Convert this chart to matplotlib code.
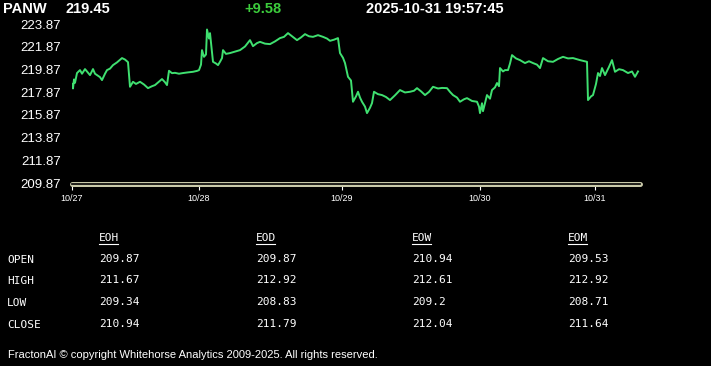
import matplotlib
matplotlib.use('Agg')
import matplotlib.pyplot as plt
from matplotlib.lines import Line2D

symbol = 'PANW'
last_price = 219.45
change = '+9.58'
stamp = '2025-10-31 19:57:45'
base = 209.87

# bar index, price
idx = [0, 1, 2, 3, 5, 8, 10, 13, 16, 18, 21, 23, 25, 28, 30, 33, 35, 38, 41, 45,
       50, 53, 56, 58, 61, 64, 68, 72, 76, 80, 83, 87, 90, 93, 95, 97, 100, 103, 107,
       111, 116, 121, 125, 127, 129, 130, 132, 134, 135, 137, 138, 141, 144, 146, 148,
       150, 151, 154, 158, 163, 168, 173, 178, 181, 185, 188, 193, 198, 203, 208, 212,
       216, 220, 225, 229, 233, 237, 241, 246, 251, 255, 258, 262, 266, 268, 271, 273,
       276, 279, 281, 284, 286, 288, 290, 293, 295, 298, 300, 302, 306, 310, 314, 318,
       323, 328, 333, 338, 342, 345, 349, 353, 357, 361, 366, 370, 375, 378, 381, 385,
       388, 392, 395, 400, 405, 407, 408, 410, 411, 413, 415, 418, 420, 423, 425, 427,
       428, 431, 433, 436, 438, 440, 444, 448, 453, 457, 461, 465, 468, 471, 476, 481,
       486, 491, 496, 501, 508, 515, 516, 519, 521, 524, 526, 528, 530, 533, 537, 540,
       543, 547, 551, 556, 560, 563, 566]
price = [218.6, 218.2, 219.0, 218.7, 219.56, 219.82, 219.5, 219.91, 219.6, 219.38,
         219.91, 219.5, 219.38, 219.2, 218.94, 219.5, 219.82, 219.95, 220.26, 220.5,
         220.88, 220.75, 220.52, 218.35, 218.79, 218.6, 218.79, 218.55, 218.23, 218.4,
         218.50, 218.8, 219.03, 218.75, 218.50, 219.76, 219.55, 219.58, 219.5, 219.56,
         219.62, 219.67, 219.75, 219.82, 220.3, 221.58, 220.99, 221.2, 223.40, 222.6,
         223.08, 220.55, 220.4, 220.26, 220.55, 220.88, 221.58, 221.25, 221.32, 221.45,
         221.58, 221.9, 222.46, 221.93, 222.2, 222.31, 222.15, 222.11, 222.35, 222.64,
         222.75, 223.08, 222.8, 222.46, 222.7, 222.99, 222.8, 222.75, 222.9, 222.75,
         222.6, 222.40, 222.5, 222.64, 221.32, 220.9, 220.44, 219.23, 218.9, 217.03,
         217.5, 217.91, 217.4, 217.03, 216.6, 216.03, 216.5, 216.91, 217.91, 217.7,
         217.62, 217.45, 217.18, 217.6, 218.06, 217.85, 217.91, 218.0, 218.23, 217.95,
         217.62, 217.9, 218.35, 218.2, 218.25, 218.23, 217.9, 217.62, 217.4, 217.03,
         217.25, 217.35, 217.1, 217.03, 216.6, 216.03, 216.9, 216.2, 216.91, 217.62,
         217.3, 218.06, 218.3, 218.68, 218.4, 220.00, 219.7, 219.82, 219.82, 220.4,
         221.14, 220.85, 220.70, 220.44, 220.6, 220.44, 220.3, 220.00, 220.88, 220.6,
         220.55, 220.8, 220.99, 220.85, 220.88, 220.7, 220.55, 217.18, 217.5, 217.62,
         218.6, 219.56, 219.3, 220.00, 219.38, 220.1, 220.70, 219.67, 219.9, 219.82,
         219.56, 219.7, 219.23, 219.70]

day_idx = [0, 127, 270, 408, 523]
day_labels = ['10/27', '10/28', '10/29', '10/30', '10/31']
yticks = [209.87, 211.87, 213.87, 215.87, 217.87, 219.87, 221.87, 223.87]

cols = ['EOH', 'EOD', 'EOW', 'EOM']
rows = ['OPEN', 'HIGH', 'LOW', 'CLOSE']
table = [['209.87', '209.87', '210.94', '209.53'],
         ['211.67', '212.92', '212.61', '212.92'],
         ['209.34', '208.83', '209.2', '208.71'],
         ['210.94', '211.79', '212.04', '211.64']]

W, H = 711, 366
fig = plt.figure(figsize=(W / 100, H / 100), dpi=100, facecolor='black')
ax = fig.add_axes([72 / W, 1 - 183 / H, (640 - 72) / W, (183 - 17) / H])
ax.set_facecolor('black')
ax.plot(idx, price, color='#3fe070', lw=1.4)
ax.axhline(base - 0.12, color='#c8c8a8', lw=3.6, solid_capstyle='round', clip_on=False)
ax.axhline(base - 0.12, color='black', lw=1.2, clip_on=False)
ax.set_xlim(0, 568)
ax.set_ylim(base, 224.5)
for s in ax.spines.values():
    s.set_visible(False)
ax.set_yticks(yticks)
ax.set_yticklabels([f'{v:.2f}' for v in yticks], family='Liberation Sans', fontsize=9.5, color='white')
ax.tick_params(axis='y', length=0, pad=8)
ax.set_xticks(day_idx)
ax.set_xticklabels(day_labels, family='Liberation Sans', fontsize=6.5, color='white')
ax.tick_params(axis='x', length=5, color='white', width=0.8, pad=3)

# header
hdr = dict(family='Liberation Sans', fontsize=10.5, weight='bold', va='center')
fig.text(3 / W, 1 - 9 / H, symbol, color='white', **hdr)
fig.text(65 / W, 1 - 9 / H, f'{last_price:.2f}', color='white', **hdr)
fig.text(244 / W, 1 - 9 / H, change, color='#3ccc3c', **hdr)
fig.text(366 / W, 1 - 9 / H, stamp, color='white', **hdr)

# table
mono = dict(family='DejaVu Sans Mono', fontsize=8, color='white', va='center')
col_x = [99, 256, 412, 568]
row_y = [260, 281, 303, 325]
for cx, c in zip(col_x, cols):
    fig.text(cx / W, 1 - 238 / H, c, **mono)
    fig.add_artist(Line2D([cx / W, (cx + 19) / W], [1 - 244 / H, 1 - 244 / H],
                          color='white', lw=0.8, transform=fig.transFigure))
for ry, r, vals in zip(row_y, rows, table):
    fig.text(7 / W, 1 - ry / H, r, **mono)
    for cx, v in zip(col_x, vals):
        fig.text(cx / W, 1 - (ry - 1) / H, v, **mono)

fig.text(8 / W, 1 - 355 / H,
         'FractonAI \u00a9 copyright Whitehorse Analytics 2009-2025. All rights reserved.',
         family='Liberation Sans', fontsize=8.0, color='white', va='center')

fig.savefig('out.png', dpi=100, facecolor='black')
